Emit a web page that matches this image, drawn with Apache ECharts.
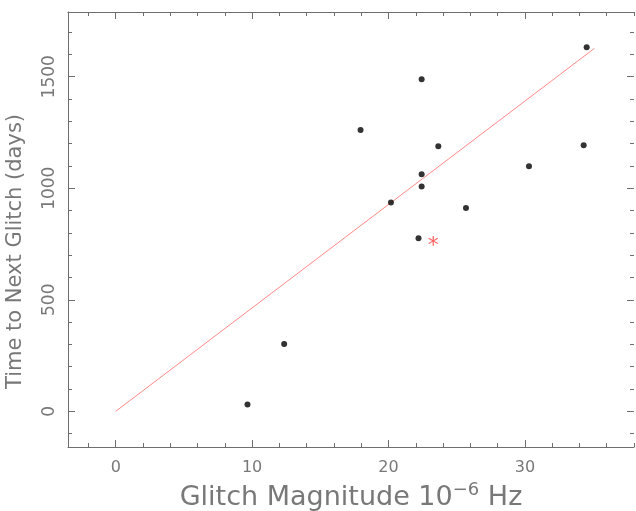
<!DOCTYPE html>
<html>
<head>
<meta charset="utf-8">
<script src="https://cdn.jsdelivr.net/npm/echarts@6/dist/echarts.min.js"></script>
<style>
  html, body { margin: 0; padding: 0; background: #fff; }
  #chart { width: 636px; height: 511px; }
</style>
</head>
<body>
<div id="chart"></div>
<script>
// glitch data: magnitude (1e-6 Hz) vs days to next glitch
const glitchPoints = [
    [9.66, 31], [12.35, 302], [17.95, 1261], [20.18, 936],
    [22.2, 776], [22.43, 1008], [22.43, 1063], [22.43, 1488],
    [23.65, 1188], [25.68, 911], [30.3, 1099], [34.31, 1193],
    [34.53, 1632]
];
const fitLine = [[0, 0], [35.1, 1627]];
const starPoint = [[23.28, 755]];

const xRange = [-3.5, 38.0];
const yRange = [-160, 1790];
const xMajor = [0, 10, 20, 30];
const xMinor = [-2, 2, 4, 6, 8, 12, 14, 16, 18, 22, 24, 26, 28, 32, 34, 36, 38];
const yMajor = [0, 500, 1000, 1500];
const yMinor = [-100, 100, 200, 300, 400, 600, 700, 800, 900, 1100, 1200, 1300, 1400, 1600, 1700];

const gray = '#6e6e6e';
const textGray = '#787878';
const font = 'DejaVu Sans';

function tickAxis(pos, range, values, len, extra) {
    return Object.assign({
        type: 'value',
        position: pos,
        min: range[0],
        max: range[1],
        axisLine: { show: false, onZero: false },
        splitLine: { show: false },
        axisLabel: { show: false },
        axisTick: { show: true, inside: true, length: len, customValues: values,
                    lineStyle: { color: gray, width: 1 } }
    }, extra || {});
}

// frame line on three sides (right side falls just off the canvas)
const frameLine = { show: true, onZero: false, lineStyle: { color: gray, width: 1 } };

const chart = echarts.init(document.getElementById('chart'));

chart.setOption({
    animation: false,
    backgroundColor: '#fff',
    grid: { left: 68, top: 12, right: 2, bottom: 64, show: false,
            outerBoundsMode: 'none', containLabel: false },
    xAxis: [
        tickAxis('bottom', xRange, xMajor, 7, {
            axisLine: frameLine,
            name: '{a|Glitch Magnitude 10}{s|−6}{a| Hz}',
            nameLocation: 'middle',
            nameGap: 34,
            nameTextStyle: {
                rich: {
                    a: { fontFamily: font, fontSize: 27, color: textGray },
                    s: { fontFamily: font, fontSize: 18, color: textGray, padding: [0, 0, 16, 0] }
                }
            },
            axisLabel: { show: true, customValues: xMajor, margin: 13,
                         fontFamily: font, fontSize: 16, color: textGray }
        }),
        tickAxis('bottom', xRange, xMinor, 4),
        tickAxis('top', xRange, xMajor, 7, { axisLine: frameLine }),
        tickAxis('top', xRange, xMinor, 4)
    ],
    yAxis: [
        tickAxis('left', yRange, yMajor, 7, {
            axisLine: frameLine,
            name: 'Time to Next Glitch (days)',
            nameLocation: 'middle',
            nameGap: 42,
            nameTextStyle: { fontFamily: font, fontSize: 21, color: textGray,
                             padding: [0, 44, 0, 0] },
            axisLabel: { show: true, customValues: yMajor, rotate: 90, margin: 10,
                         formatter: v => String(v),
                         fontFamily: font, fontSize: 17, color: textGray }
        }),
        tickAxis('left', yRange, yMinor, 4),
        tickAxis('right', yRange, yMajor, 7),
        tickAxis('right', yRange, yMinor, 4)
    ],
    series: [
        {
            type: 'line',
            data: fitLine,
            symbol: 'none',
            lineStyle: { color: '#ff8a8a', width: 1 },
            z: 2
        },
        {
            type: 'scatter',
            data: glitchPoints,
            symbol: 'circle',
            symbolSize: 6,
            itemStyle: { color: '#000' },
            z: 3
        },
        {
            type: 'scatter',
            data: starPoint,
            symbolSize: 1,
            itemStyle: { color: 'transparent' },
            label: { show: true, position: 'inside', formatter: '*', offset: [0, 3],
                     fontFamily: font, fontSize: 22, color: '#ff3b3b' },
            z: 3
        }
    ]
});
</script>
</body>
</html>
